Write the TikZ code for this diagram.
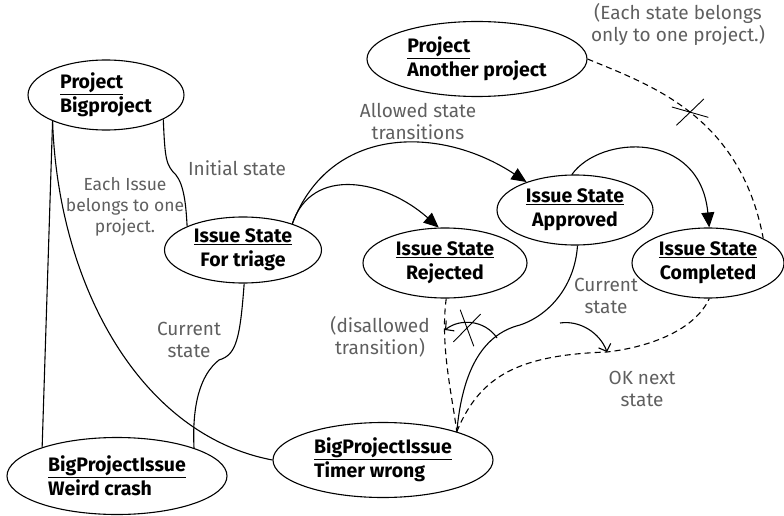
\documentclass[tikz,border=0pt]{standalone}
\usepackage{fontspec}
\setmainfont{Fira Sans}
\usetikzlibrary{shapes,arrows.meta,calc}
\definecolor{notegray}{RGB}{95,95,95}

\begin{document}
\begin{tikzpicture}[x=1pt,y=1pt,line width=1.1pt,
    obj/.style={draw,ellipse,inner sep=0pt,font=\fontsize{19.5}{24}\selectfont\bfseries},
    note/.style={text=notegray,align=center,font=\fontsize{19}{22}\selectfont},
    trans/.style={-{Triangle[length=15pt,width=13pt]}},
    barb/.style={-{Straight Barb[length=6pt,width=13pt]}},
    link/.style={dash pattern=on 6pt off 4pt},
    xmark/.style={cross out,draw,solid,line width=0.9pt,inner sep=0pt}]
  \useasboundingbox (0,0) rectangle (784,515);

  % projects and issues
  \node[obj,minimum width=156pt,minimum height=70pt,align=left] (bigproj) at (106,420) {\underline{Project}\\Bigproject};
  \node[obj,minimum width=220pt,minimum height=75pt,align=left] (another) at (477,456) {\underline{Project}\\Another project};
  \node[obj,minimum width=220pt,minimum height=77pt,align=left] (weird) at (117,39) {\underline{BigProjectIssue}\\Weird crash};
  \node[obj,minimum width=220pt,minimum height=75pt,align=left] (timer) at (383,55) {\underline{BigProjectIssue}\\Timer wrong};

  % issue states
  \node[obj,minimum width=157pt,minimum height=66pt,align=center] (triage) at (243,265) {\underline{Issue State}\\For triage};
  \node[obj,minimum width=164pt,minimum height=70pt,align=center] (rejected) at (445,252) {\underline{Issue State}\\Rejected};
  \node[obj,minimum width=156pt,minimum height=70pt,align=center] (approved) at (575,305) {\underline{Issue State}\\Approved};
  \node[obj,minimum width=152pt,minimum height=70pt,align=center] (completed) at (708,252) {\underline{Issue State}\\Completed};

  % plain links
  \draw (bigproj.206) -- (weird.159);
  \draw (bigproj.206) .. controls (58,230) and (140,80) .. (timer.west);
  \draw (bigproj.-23) .. controls (165,355) and (166,350) .. (176,340)
        .. controls (184,330) and (186,310) .. (triage.157);
  \draw (triage.-88) .. controls (240,175) and (236,160) .. (219,155)
        .. controls (200,140) and (192,110) .. (weird.20);

  % allowed transitions
  \draw[trans] (triage.28) .. controls (312,350) and (385,335) .. (rejected.100);
  \draw[trans] (triage.28) .. controls (330,390) and (440,390) .. (approved.150);
  \draw[trans] (approved.95) .. controls (600,380) and (700,385) .. (completed.88);

  % states of one project
  \draw[link] (another.east) .. controls (650,430) and (740,400) .. (completed.24)
        node[xmark,pos=0.5,minimum width=32pt,minimum height=18pt,rotate=14] (crossproj) {};

  % current state of the issue
  \coordinate (disfrom) at (497,177);
  \coordinate (disto) at (445,185);
  \coordinate (oknext) at (607,163);
  \draw[link] (rejected.-88) .. controls (440,170) and (452,120) .. (timer.21);
  \draw (timer.21) .. controls (462,140) and (480,180) .. (520,190)
        .. controls (550,200) and (575,230) .. (approved.-86);
  \draw[link] (timer.21) .. controls (480,140) and (520,160) .. (oknext)
        .. controls (650,168) and (695,185) .. (completed.-88);
  \draw[barb] (disfrom) .. controls (485,195) and (460,197) .. (disto);
  \node[xmark,minimum width=32pt,minimum height=20pt,rotate=78] (crossdis) at (467,187) {};
  \draw[barb] (560,192) .. controls (580,195) and (600,182) .. (oknext);

  % notes
  \node[note,font=\fontsize{17.5}{21}\selectfont] (ownernote) at (125,308) {Each Issue\\belongs to one\\project.};
  \node[note] (initnote) at (237,347) {Initial state};
  \node[note] (curnote) at (189,175) {Current\\state};
  \node[note] (allowednote) at (418,394) {Allowed state\\transitions};
  \node[note] (statenote) at (678,491) {(Each state belongs\\only to one project.)};
  \node[note] (curnote2) at (606,219) {Current\\state};
  \node[note] (disnote) at (380,178) {(disallowed\\transition)};
  \node[note] (oknote) at (642,126) {OK next\\state};
\end{tikzpicture}
\end{document}
